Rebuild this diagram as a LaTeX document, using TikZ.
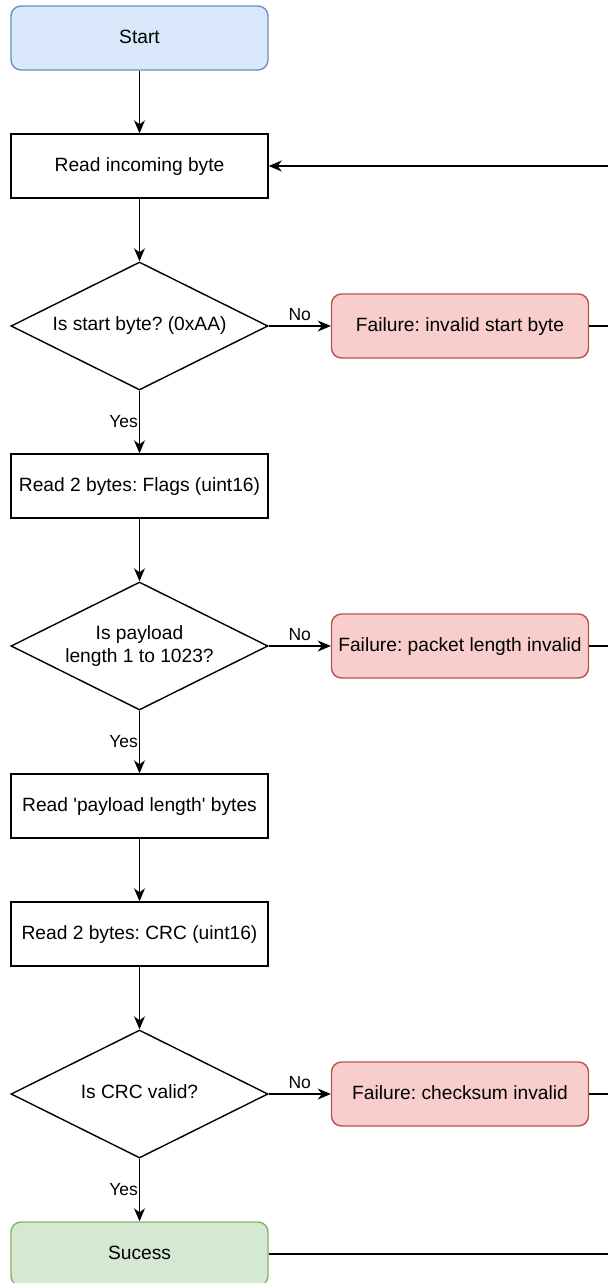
\documentclass[tikz,border=0pt]{standalone}
\usepackage{fontspec}
\setmainfont{Liberation Sans}[Ligatures=TeXOff]
\usetikzlibrary{shapes.geometric,arrows.meta}
\definecolor{startfill}{HTML}{DAE8FC}
\definecolor{startdraw}{HTML}{6C8EBF}
\definecolor{failfill}{HTML}{F8CECC}
\definecolor{faildraw}{HTML}{B85450}
\definecolor{okfill}{HTML}{D5E8D4}
\definecolor{okdraw}{HTML}{82B366}
\newcommand{\condtext}[1]{\makebox[0pt]{\begin{tabular}{@{}c@{}}#1\end{tabular}}}
\frenchspacing
\begin{document}
\begin{tikzpicture}[x=1pt,y=-1pt,
    font=\fontsize{19.2}{23}\selectfont,
    line width=1.4pt,
    >={Stealth[length=13pt,width=11pt,inset=4pt]},
    proc/.style={draw,minimum width=257pt,minimum height=64pt,inner sep=0pt,text height=14pt,text depth=3pt},
    term/.style={proc,rounded corners=10pt},
    cond/.style={draw,diamond,minimum width=257pt,minimum height=128pt,inner sep=0pt},
    fail/.style={term,fill=failfill,draw=faildraw},
    lbl/.style={font=\fontsize{17.5}{21}\selectfont}]
                \useasboundingbox (0,0) rectangle (608,1283);
                %nodi a sinistra
                \node[term,fill=startfill,draw=startdraw] (start) at (139.5,38) {Start};
                \node[proc] (readbyte) at (139.5,166) {Read incoming byte};
                \node[cond] (isstart) at (139.5,326) {\condtext{Is start byte? (0xAA)}};
                \node[proc] (flags) at (139.5,486) {Read 2 bytes: Flags (uint16)};
                \node[cond] (islen) at (139.5,646) {\condtext{Is payload\\length 1 to 1023?}};
                \node[proc] (payload) at (139.5,806) {Read 'payload length' bytes};
                \node[proc] (crc) at (139.5,934) {Read 2 bytes: CRC (uint16)};
                \node[cond] (iscrc) at (139.5,1094) {\condtext{Is CRC valid?}};
                \node[term,fill=okfill,draw=okdraw] (ok) at (139.5,1254) {Sucess};

                %nodi a destra
                \node[fail] (failstart) at (460,326) {Failure: invalid start byte};
                \node[fail] (faillen) at (460,646) {Failure: packet length invalid};
                \node[fail] (failcrc) at (460,1094) {Failure: checksum invalid};

                \coordinate (back) at (615,166);
                \coordinate (out1) at (615,326);
                \coordinate (out2) at (615,646);
                \coordinate (out3) at (615,1094);
                \coordinate (out4) at (615,1254);

                \draw[->] (start) -- (readbyte);
                \draw[->] (readbyte) -- (isstart);
                \draw[->] (isstart) -- node[lbl,left,inner sep=1pt] {Yes} (flags);
                \draw[->] (flags) -- (islen);
                \draw[->] (islen) -- node[lbl,left,inner sep=1pt] {Yes} (payload);
                \draw[->] (payload) -- (crc);
                \draw[->] (crc) -- (iscrc);
                \draw[->] (iscrc) -- node[lbl,left,inner sep=1pt] {Yes} (ok);

                \draw[->] (isstart) -- node[lbl,above,inner sep=5pt] {No} (failstart);
                \draw[->] (islen) -- node[lbl,above,inner sep=5pt] {No} (faillen);
                \draw[->] (iscrc) -- node[lbl,above,inner sep=5pt] {No} (failcrc);

                \draw (failstart) -- (out1);
                \draw (faillen) -- (out2);
                \draw (failcrc) -- (out3);
                \draw (ok) -- (out4);
                \draw[->] (back) -- (readbyte);

            \end{tikzpicture}
\end{document}
